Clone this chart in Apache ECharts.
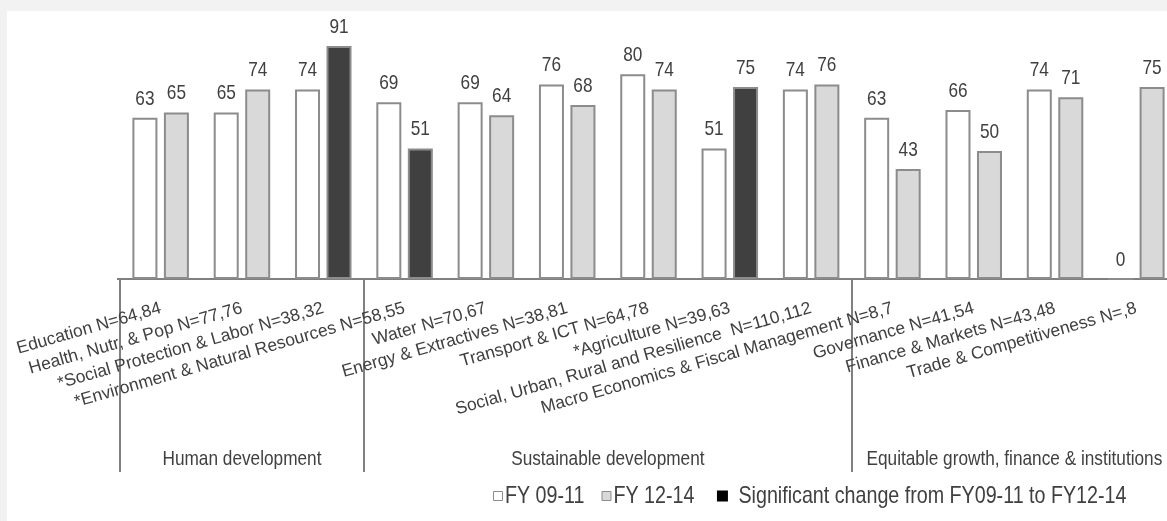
<!DOCTYPE html>
<html>
<head>
<meta charset="utf-8">
<script src="https://cdn.jsdelivr.net/npm/echarts@6/dist/echarts.min.js"></script>
<style>
  html, body { margin: 0; padding: 0; background: #f2f2f2; overflow: hidden; width: 1167px; height: 521px; }
  #chart { width: 1190px; height: 521px; }
</style>
</head>
<body>
<div id="chart"></div>
<script>
const categories = [
  'Education N=64,84',
  'Health, Nutr, & Pop N=77,76',
  '*Social Protection & Labor N=38,32',
  '*Environment & Natural Resources N=58,55',
  'Water N=70,67',
  'Energy & Extractives N=38,81',
  'Transport & ICT N=64,78',
  '*Agriculture N=39,63',
  'Social, Urban, Rural and Resilience  N=110,112',
  'Macro Economics & Fiscal Management N=8,7',
  'Governance N=41,54',
  'Finance & Markets N=43,48',
  'Trade & Competitiveness N=,8'
];
const fy0911 = [63, 65, 74, 69, 69, 76, 80, 51, 74, 63, 66, 74, 0];
const fy1214 = [65, 74, 91, 51, 64, 68, 74, 75, 76, 43, 50, 71, 75];
const significant = [false, false, true, true, false, false, false, true, false, false, false, false, false];
const groupNames = ['Human development', 'Sustainable development', 'Equitable growth, finance & institutions'];
const groupSizes = [3, 6, 4];
const seriesNames = ['FY 09-11', 'FY 12-14', 'Significant change from FY09-11 to FY12-14'];

const SANS = "'Liberation Sans', Arial, sans-serif";
const NARROW_SCALE = 0.82;   // Arial Narrow look: Arial squeezed horizontally
const TXT = '#404040';
const EDGE = '#8c8c8c';
const BAR_W = 25;
const BAR_GAP = 0.26;
const HALF_OFF = (BAR_W + BAR_W * BAR_GAP) / 2;

const chart = echarts.init(document.getElementById('chart'), null, { renderer: 'canvas' });

function valueLabelSeries(name, values, side) {
  return {
    name: name + ' labels',
    type: 'custom',
    silent: true,
    z: 5,
    data: values.map((v, i) => [i, v]),
    encode: { x: 0, y: 1 },
    renderItem: (params, api) => {
      const p = api.coord([api.value(0), api.value(1)]);
      return {
        type: 'text',
        x: p[0] + side * HALF_OFF,
        y: p[1] - 19,
        scaleX: NARROW_SCALE,
        style: {
          text: String(api.value(1)),
          fontFamily: SANS, fontSize: 21, fill: TXT,
          align: 'center', verticalAlign: 'middle'
        }
      };
    }
  };
}

chart.setOption({
  backgroundColor: '#f2f2f2',
  animation: false,
  grid: { left: 120, top: 23, width: 1057, height: 256, containLabel: false, outerBoundsMode: 'none' },
  xAxis: {
    type: 'category',
    data: categories,
    axisLine: { lineStyle: { color: '#808080', width: 2 } },
    axisTick: { show: false },
    axisLabel: {
      interval: 0, rotate: 16, margin: 29,
      fontFamily: SANS, fontSize: 17.5, color: TXT
    }
  },
  yAxis: {
    type: 'value', min: 0, max: 100,
    show: false, splitLine: { show: false }
  },
  series: [
    {
      name: seriesNames[0], type: 'bar', barWidth: BAR_W, barGap: (BAR_GAP * 100) + '%',
      itemStyle: { color: '#ffffff', borderColor: EDGE, borderWidth: 2 },
      data: fy0911
    },
    {
      name: seriesNames[1], type: 'bar', barWidth: BAR_W, barGap: (BAR_GAP * 100) + '%',
      itemStyle: { color: '#d9d9d9', borderColor: EDGE, borderWidth: 2 },
      data: fy1214.map((v, i) => ({
        value: v,
        itemStyle: { color: significant[i] ? '#404040' : '#d9d9d9' }
      }))
    },
    valueLabelSeries(seriesNames[0], fy0911, -1),
    valueLabelSeries(seriesNames[1], fy1214, 1)
  ]
});

// group separators and group labels, positioned from the category axis
const c0 = chart.convertToPixel({ xAxisIndex: 0 }, 0);
const c1 = chart.convertToPixel({ xAxisIndex: 0 }, 1);
const band = c1 - c0;
const baseY = chart.convertToPixel({ yAxisIndex: 0 }, 0);
const elements = [
  { type: 'rect', z: -100, silent: true, shape: { x: 7, y: 11, width: 1190, height: 521 }, style: { fill: '#ffffff' } },
  { type: 'line', silent: true, shape: { x1: 117, y1: baseY, x2: c0, y2: baseY }, style: { stroke: '#808080', lineWidth: 2 } }
];
let start = 0;
const bounds = [];
groupSizes.forEach((n, g) => {
  const xL = chart.convertToPixel({ xAxisIndex: 0 }, start) - band / 2;
  const xR = chart.convertToPixel({ xAxisIndex: 0 }, start + n - 1) + band / 2;
  bounds.push(xL);
  elements.push({
    type: 'text', silent: true,
    x: (xL + xR) / 2, y: 459, scaleX: NARROW_SCALE,
    style: { text: groupNames[g], fontFamily: SANS, fontSize: 21, fill: TXT, align: 'center', verticalAlign: 'middle' }
  });
  start += n;
});
bounds.forEach(x => {
  elements.push({
    type: 'line', silent: true,
    shape: { x1: Math.round(x), y1: baseY, x2: Math.round(x), y2: 472 },
    style: { stroke: '#808080', lineWidth: 2 }
  });
});

// legend (drawn as graphic so that the narrow text style can be kept)
const measure = document.createElement('canvas').getContext('2d');
const LEG_FONT = 24;
measure.font = LEG_FONT + 'px "Liberation Sans", Arial, sans-serif';
const legendIcons = [
  { fill: '#ffffff', stroke: EDGE, size: 10, gap: 2 },
  { fill: '#d9d9d9', stroke: EDGE, size: 10, gap: 2 },
  { fill: '#000000', stroke: null, size: 12, gap: 10 }
];
const legendGaps = [17, 22];
let lx = 493;
const ly = 496;
seriesNames.forEach((name, i) => {
  const ic = legendIcons[i];
  elements.push({
    type: 'rect', silent: true,
    shape: { x: lx + 0.5, y: ly - ic.size / 2 + 0.5, width: ic.size - 1, height: ic.size - 1 },
    style: { fill: ic.fill, stroke: ic.stroke, lineWidth: ic.stroke ? 1 : 0 }
  });
  lx += ic.size + ic.gap;
  elements.push({
    type: 'text', silent: true,
    x: lx, y: ly, scaleX: NARROW_SCALE,
    style: { text: name, fontFamily: SANS, fontSize: LEG_FONT, fill: TXT, align: 'left', verticalAlign: 'middle' }
  });
  lx += measure.measureText(name).width * NARROW_SCALE;
  if (i < legendGaps.length) lx += legendGaps[i];
});

chart.setOption({ graphic: { elements } });
</script>
</body>
</html>
